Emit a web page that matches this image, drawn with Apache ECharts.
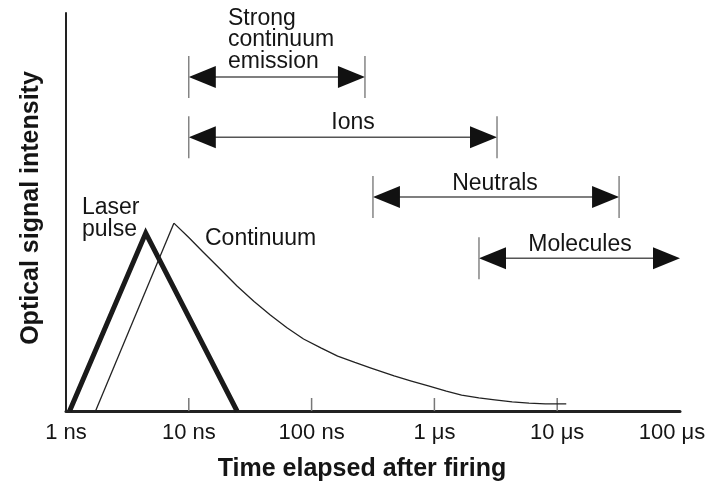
<!DOCTYPE html>
<html>
<head>
<meta charset="utf-8">
<script src="https://cdn.jsdelivr.net/npm/echarts@6/dist/echarts.min.js"></script>
<style>html,body{margin:0;padding:0;background:#fff;}#c{width:709px;height:486px;}</style>
</head>
<body>
<div id="c"></div>
<script>
// time in ns (log axis), intensity in arbitrary units 0..100
var tickValues = [1, 10, 100, 1000, 10000, 100000];
var tickLabels = ['1 ns', '10 ns', '100 ns', '1 μs', '10 μs', '100 μs'];
var innerTicks = [10, 100, 1000, 10000];

var laserPulse = [[1.07, 0], [4.46, 44.7], [24.7, 0]];
var continuumRise = [[1.74, 0], [7.56, 47.2]];
var continuumDecay = [[7.56, 47.2], [10.0, 43.6], [13.0, 40.0], [18.0, 35.7], [24.7, 31.4], [34.0, 27.5], [46.1, 24.1],
  [63.0, 20.9], [86.0, 18.1], [120, 15.8], [163, 13.8], [225, 12.2], [305, 10.8], [470, 8.8], [650, 7.5], [893, 6.3],
  [1250, 5.0], [1665, 4.0], [2300, 3.3], [3103, 2.8], [4300, 2.3], [5890, 2.0], [8000, 1.8], [11850, 1.8]];

// ranges: [start, end, level, leftBar, rightBar]
var rangeNames = ['Strong\ncontinuum\nemission', 'Ions', 'Neutrals', 'Molecules'];
var ranges = [[10, 272, 83.9, 1, 1], [10, 3235, 68.8, 1, 1], [316, 31900, 53.8, 1, 1], [2307, 100000, 38.4, 1, 0]];

var FONT = '"Liberation Sans", Arial, Helvetica, sans-serif';
var INK = '#151515';
var chart = echarts.init(document.getElementById('c'), null, {renderer: 'canvas'});

function arrowItem(params, api) {
  var a = api.coord([api.value(0), api.value(2)]);
  var b = api.coord([api.value(1), api.value(2)]);
  var L = 27, H = 11, bar = 21;
  var children = [
    {type: 'line', shape: {x1: a[0] + L - 2, y1: a[1], x2: b[0] - L + 2, y2: b[1]}, style: {stroke: '#555', lineWidth: 1.5}},
    {type: 'polygon', shape: {points: [[a[0], a[1]], [a[0] + L, a[1] - H], [a[0] + L, a[1] + H]]}, style: {fill: '#111'}},
    {type: 'polygon', shape: {points: [[b[0], b[1]], [b[0] - L, b[1] - H], [b[0] - L, b[1] + H]]}, style: {fill: '#111'}}
  ];
  if (api.value(3)) children.push({type: 'line', shape: {x1: a[0], y1: a[1] - bar, x2: a[0], y2: a[1] + bar}, style: {stroke: '#666', lineWidth: 1.2}});
  if (api.value(4)) children.push({type: 'line', shape: {x1: b[0], y1: b[1] - bar, x2: b[0], y2: b[1] + bar}, style: {stroke: '#666', lineWidth: 1.2}});
  return {type: 'group', children: children};
}

function tickItem(params, api) {
  var p = api.coord([api.value(0), 0]);
  return {type: 'line', shape: {x1: p[0], y1: p[1], x2: p[0], y2: p[1] - 13}, style: {stroke: '#777', lineWidth: 1.5}};
}

chart.setOption({
  animation: false,
  backgroundColor: '#fff',
  grid: {left: 66, right: 29, top: 13, bottom: 75, containLabel: false},
  xAxis: {
    type: 'log', logBase: 10, min: 1, max: 100000,
    axisLine: {lineStyle: {color: '#222', width: 3}},
    axisTick: {show: false},
    splitLine: {show: false},
    axisLabel: {
      margin: 11, fontSize: 22, color: INK, fontFamily: FONT,
      formatter: function (v) {
        var i = tickValues.indexOf(Math.round(v));
        if (i < 0) return '';
        if (i === tickValues.length - 1) return '{r|' + tickLabels[i] + '}';
        return tickLabels[i];
      },
      rich: {r: {fontSize: 22, color: INK, fontFamily: FONT, padding: [0, 16, 0, 0]}}
    }
  },
  yAxis: {
    type: 'value', min: 0, max: 100,
    axisLine: {show: true, lineStyle: {color: '#222', width: 2}},
    axisTick: {show: false}, axisLabel: {show: false}, splitLine: {show: false}
  },
  series: [
    {type: 'line', data: laserPulse, symbol: 'none', lineStyle: {color: '#1a1a1a', width: 5, join: 'miter'}, z: 3},
    {type: 'line', data: continuumRise, symbol: 'none', lineStyle: {color: '#222', width: 1.3}},
    {type: 'line', data: continuumDecay, symbol: 'none', smooth: false, lineStyle: {color: '#222', width: 1.3, join: 'round'}},
    {type: 'custom', renderItem: tickItem, data: innerTicks.map(function (v) { return [v]; }), encode: {x: 0}, silent: true},
    {type: 'custom', renderItem: arrowItem, data: ranges, encode: {x: [0, 1], y: 2}, silent: true}
  ],
  graphic: [
    {type: 'text', x: 228, y: 40, style: {text: rangeNames[0], font: '23px ' + FONT, fill: INK, align: 'left', verticalAlign: 'middle', lineHeight: 21.5}},
    {type: 'text', x: 353, y: 123, style: {text: rangeNames[1], font: '23px ' + FONT, fill: INK, align: 'center', verticalAlign: 'middle'}},
    {type: 'text', x: 495, y: 184, style: {text: rangeNames[2], font: '23px ' + FONT, fill: INK, align: 'center', verticalAlign: 'middle'}},
    {type: 'text', x: 580, y: 245, style: {text: rangeNames[3], font: '23px ' + FONT, fill: INK, align: 'center', verticalAlign: 'middle'}},
    {type: 'text', x: 82, y: 219, style: {text: 'Laser\npulse', font: '23px ' + FONT, fill: INK, align: 'left', verticalAlign: 'middle', lineHeight: 22}},
    {type: 'text', x: 205, y: 239, style: {text: 'Continuum', font: '23px ' + FONT, fill: INK, align: 'left', verticalAlign: 'middle'}},
    {type: 'text', x: 362, y: 469, style: {text: 'Time elapsed after firing', font: 'bold 25px ' + FONT, fill: INK, align: 'center', verticalAlign: 'middle'}},
    {type: 'text', x: 31, y: 208, rotation: Math.PI / 2, style: {text: 'Optical signal intensity', font: 'bold 25px ' + FONT, fill: INK, align: 'center', verticalAlign: 'middle'}}
  ]
});
</script>
</body>
</html>
